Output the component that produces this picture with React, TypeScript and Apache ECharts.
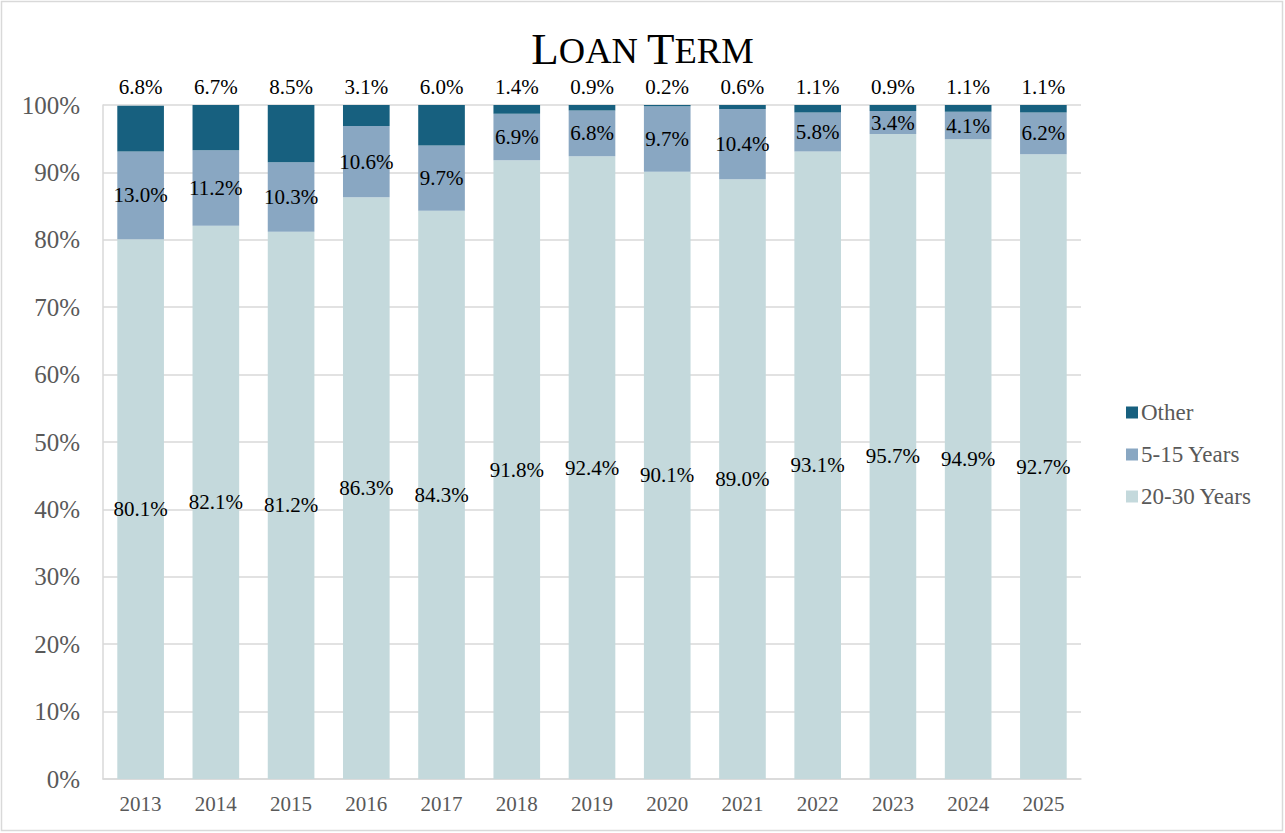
import React, { useEffect, useRef } from "react";
import * as echarts from "echarts";

const years = ["2013", "2014", "2015", "2016", "2017", "2018", "2019", "2020", "2021", "2022", "2023", "2024", "2025"];
const long20to30 = [80.1, 82.1, 81.2, 86.3, 84.3, 91.8, 92.4, 90.1, 89.0, 93.1, 95.7, 94.9, 92.7];
const mid5to15 = [13.0, 11.2, 10.3, 10.6, 9.7, 6.9, 6.8, 9.7, 10.4, 5.8, 3.4, 4.1, 6.2];
const other = [6.8, 6.7, 8.5, 3.1, 6.0, 1.4, 0.9, 0.2, 0.6, 1.1, 0.9, 1.1, 1.1];

const FONT = "Liberation Serif";
const fmt = (p: any) => Number(p.value).toFixed(1) + "%";

export default function App() {
  const ref = useRef<HTMLDivElement>(null);
  useEffect(() => {
    if (!ref.current) return;
    const chart = echarts.init(ref.current, undefined, { renderer: "svg" });
    const labelBase = { show: true, color: "#000", fontSize: 21, fontFamily: FONT, formatter: fmt };
    chart.setOption({
      animation: false,
      backgroundColor: "#fff",
      textStyle: { fontFamily: FONT },
      title: {
        text: "{a|L}{b|OAN }{a|T}{b|ERM}",
        left: "center",
        top: 20,
        textStyle: {
          fontWeight: "normal",
          rich: {
            a: { fontSize: 45, fontFamily: FONT, fontWeight: "normal", color: "#000", verticalAlign: "bottom", lineHeight: 46 },
            b: { fontSize: 36.5, fontFamily: FONT, fontWeight: "normal", color: "#000", verticalAlign: "bottom", lineHeight: 37, padding: [0, 0, 2, 0] },
          },
        },
      },
      graphic: [
        {
          type: "rect",
          shape: { x: 1.5, y: 1.5, width: 1281, height: 829 },
          style: { fill: "none", stroke: "#d9d9d9", lineWidth: 1.5 },
          silent: true,
        },
      ],
      legend: {
        orient: "vertical",
        left: 1121,
        top: 396,
        itemWidth: 12,
        itemHeight: 12,
        itemGap: 19,
        icon: "rect",
        data: ["Other", "5-15 Years", "20-30 Years"],
        textStyle: { fontSize: 23, color: "#595959", fontFamily: FONT, padding: [0, 0, 0, -2] },
      },
      grid: { left: 103, right: 204, top: 105, bottom: 54, containLabel: false },
      xAxis: {
        type: "category",
        data: years,
        axisLine: { show: true, lineStyle: { color: "#d9d9d9", width: 1.5 } },
        axisTick: { show: false },
        axisLabel: { color: "#595959", fontSize: 21, fontFamily: FONT, margin: 14 },
      },
      yAxis: {
        type: "value",
        min: 0,
        max: 100,
        interval: 10,
        axisLine: { show: true, lineStyle: { color: "#d9d9d9", width: 1.5 } },
        axisTick: { show: false },
        splitLine: { show: true, lineStyle: { color: "#d9d9d9", width: 1.5 } },
        axisLabel: { color: "#595959", fontSize: 25, fontFamily: FONT, margin: 23, formatter: "{value}%" },
      },
      series: [
        {
          name: "20-30 Years",
          type: "bar",
          stack: "t",
          data: long20to30,
          barCategoryGap: "38%",
          itemStyle: { color: "#c4d9dc" },
          label: { ...labelBase, position: "inside" },
        },
        {
          name: "5-15 Years",
          type: "bar",
          stack: "t",
          data: mid5to15,
          itemStyle: { color: "#89a7c2" },
          label: { ...labelBase, position: "inside" },
        },
        {
          name: "Other",
          type: "bar",
          stack: "t",
          data: other,
          itemStyle: { color: "#17607f" },
          label: { ...labelBase, position: "top", distance: 8 },
        },
      ],
    });
    return () => chart.dispose();
  }, []);
  return <div ref={ref} style={{ position: "absolute", left: 0, top: 0, width: 1285, height: 833 }} />;
}
